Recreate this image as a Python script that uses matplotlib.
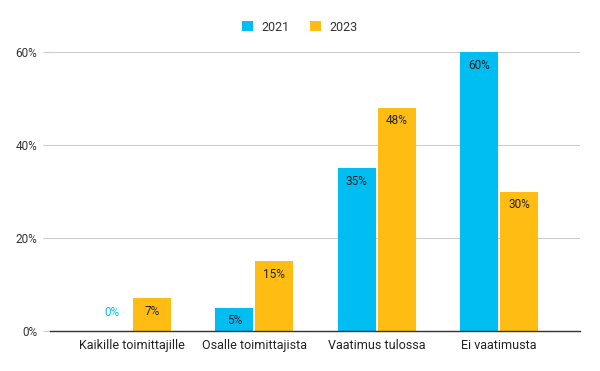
import matplotlib
matplotlib.use("Agg")
import matplotlib.pyplot as plt
import numpy as np

categories = ["Kaikille toimittajille", "Osalle toimittajista", "Vaatimus tulossa", "Ei vaatimusta"]
series_names = ["2021", "2023"]
values_2021 = [0, 5, 35, 60]
values_2023 = [7, 15, 48, 30]
yticks = [0, 20, 40, 60]
colors = ["#00bdf2", "#ffbc12"]

plt.rcParams['font.family'] = ['Roboto', 'DejaVu Sans']

fig = plt.figure(figsize=(6, 3.71), dpi=100)
ax = fig.add_axes([50/600, 1-331/371, 530/600, (331-52)/371])

x = np.arange(len(categories))
w = 0.31
gap = 0.008
for i, (vals, col, name) in enumerate([(values_2021, colors[0], series_names[0]), (values_2023, colors[1], series_names[1])]):
    offs = (-w/2 - gap) if i == 0 else (w/2 + gap)
    ax.bar(x + offs, vals, width=w, color=col, label=name, zorder=3)
    for xi, v in zip(x + offs, vals):
        if v == 0:
            ax.text(xi, 4.0, f"{v}%", ha="center", va="center", fontsize=8.5, color=col, zorder=4)
        else:
            ax.text(xi, v - 2.8, f"{v}%", ha="center", va="center", fontsize=8.5, color="#222222", zorder=4)

ax.set_xlim(-0.67, 3.66)
ax.set_ylim(0, 60)
ax.set_yticks(yticks)
ax.set_yticklabels([f"{t}%" for t in yticks], fontsize=8.5, color="#333333")
ax.set_xticks(x)
ax.set_xticklabels(categories, fontsize=9, color="#222222")
ax.tick_params(axis="x", length=0, pad=6)
ax.tick_params(axis="y", length=5, color="#cccccc", pad=4)
ax.grid(axis="y", color="#cccccc", linewidth=0.8, zorder=0)
for s in ["top", "right", "left"]:
    ax.spines[s].set_visible(False)
ax.spines["bottom"].set_color("#333333")
ax.spines["bottom"].set_linewidth(1)
ax.spines["bottom"].set_zorder(5)

leg = fig.legend(loc="upper center", bbox_to_anchor=(0.5, 0.975), ncol=2, frameon=False,
                 fontsize=9, handlelength=0.9, handleheight=0.9, columnspacing=1.6, handletextpad=0.7)
for t in leg.get_texts():
    t.set_color("#333333")

fig.savefig("out.png", dpi=100)
